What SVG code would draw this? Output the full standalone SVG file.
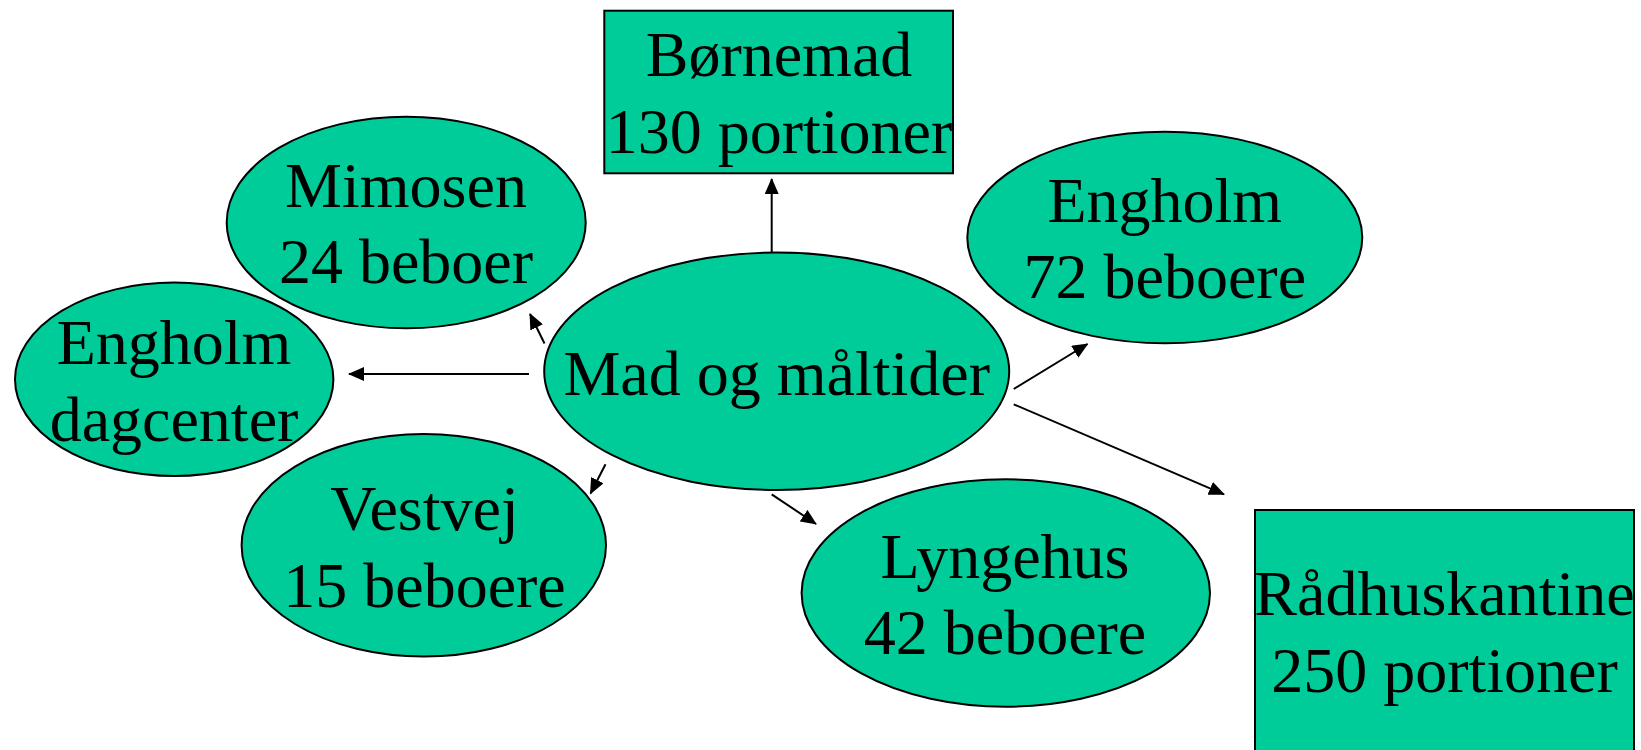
<svg xmlns="http://www.w3.org/2000/svg" width="1641" height="750" viewBox="0 0 1641 750">
<style>
.shape { fill: #00CC99; stroke: #000000; stroke-width: 2; }
.lbl { font-family: "Liberation Serif", "Times New Roman", serif; font-size: 64px; fill: #000000; text-anchor: middle; }
.conn { stroke: #000000; stroke-width: 2; fill: none; marker-end: url(#arrow); }
</style>
<defs>
<marker id="arrow" viewBox="0 0 16 14" refX="15" refY="7" markerWidth="16" markerHeight="14" markerUnits="userSpaceOnUse" orient="auto">
<path d="M0,0 L16,7 L0,14 z" fill="#000000"/>
</marker>
</defs>
<rect width="1641" height="750" fill="#ffffff"/>
<g id="connectors">
<line class="conn" x1="771.7" y1="252" x2="771.7" y2="179"/>
<line class="conn" x1="544.5" y1="343.5" x2="530" y2="314"/>
<line class="conn" x1="529" y1="374" x2="349" y2="374"/>
<line class="conn" x1="605.5" y1="464.3" x2="590.5" y2="493.5"/>
<line class="conn" x1="771.7" y1="494.3" x2="816" y2="524"/>
<line class="conn" x1="1013.7" y1="389" x2="1087.5" y2="344"/>
<line class="conn" x1="1013.7" y1="404.3" x2="1224" y2="494.3"/>
</g>
<g id="node-mad">
<ellipse class="shape" cx="776.7" cy="371.3" rx="232.5" ry="118.7"/>
<text class="lbl" x="776.7" y="395">Mad og måltider</text>
</g>
<g id="node-bornemad">
<rect class="shape" x="604.3" y="10.7" width="348.7" height="162.6"/>
<text class="lbl" x="779" y="76">Børnemad</text>
<text class="lbl" x="779" y="153.3">130 portioner</text>
</g>
<g id="node-mimosen">
<ellipse class="shape" cx="406.2" cy="222.5" rx="179.5" ry="105.8"/>
<text class="lbl" x="406" y="207.3">Mimosen</text>
<text class="lbl" x="406" y="283.3">24 beboer</text>
</g>
<g id="node-engholm-dagcenter">
<ellipse class="shape" cx="174.2" cy="379.3" rx="159.2" ry="96.7"/>
<text class="lbl" x="174" y="364">Engholm</text>
<text class="lbl" x="174" y="440.7">dagcenter</text>
</g>
<g id="node-vestvej">
<ellipse class="shape" cx="423.8" cy="545.3" rx="182.2" ry="111.3"/>
<text class="lbl" x="424.5" y="530">Vestvej</text>
<text class="lbl" x="424.5" y="606.7">15 beboere</text>
</g>
<g id="node-engholm-72">
<ellipse class="shape" cx="1164.8" cy="237.5" rx="197.5" ry="105.8"/>
<text class="lbl" x="1164.8" y="221.7">Engholm</text>
<text class="lbl" x="1164.8" y="298.3">72 beboere</text>
</g>
<g id="node-lyngehus">
<ellipse class="shape" cx="1005.8" cy="593" rx="204.2" ry="113.7"/>
<text class="lbl" x="1005" y="578.3">Lyngehus</text>
<text class="lbl" x="1005" y="654.3">42 beboere</text>
</g>
<g id="node-raadhuskantine">
<rect class="shape" x="1255" y="510" width="379" height="260"/>
<text class="lbl" x="1444.5" y="615">Rådhuskantine</text>
<text class="lbl" x="1444.5" y="692.3">250 portioner</text>
</g>
</svg>
